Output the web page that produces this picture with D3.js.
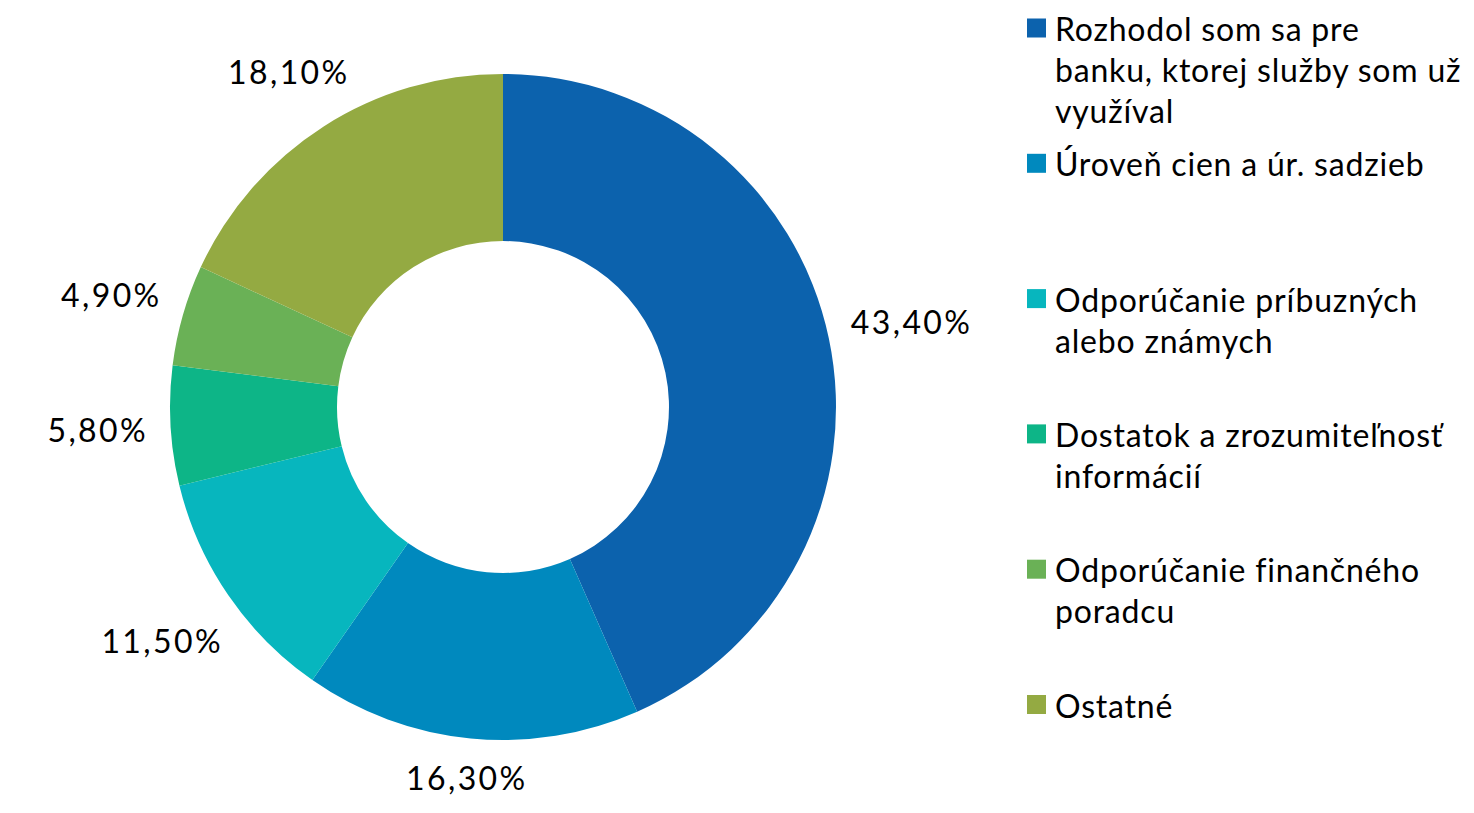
<!DOCTYPE html>
<html>
<head>
<meta charset="utf-8">
<script src="https://cdn.jsdelivr.net/npm/d3@7"></script>
<style>
  html, body { margin: 0; padding: 0; background: #fff; }
  svg { display: block; }
  text { font-family: Lato, "Open Sans", sans-serif; fill: #000; }
</style>
</head>
<body>
<svg id="chart" width="1474" height="813"></svg>
<script>
const categories = [
  ["Rozhodol som sa pre", "banku, ktorej služby som už", "využíval"],
  ["Úroveň cien a  úr. sadzieb"],
  ["Odporúčanie príbuzných", "alebo známych"],
  ["Dostatok a  zrozumiteľnosť", "informácií"],
  ["Odporúčanie finančného", "poradcu"],
  ["Ostatné"]
];
const values = [43.4, 16.3, 11.5, 5.8, 4.9, 18.1];
const valueLabels = ["43,40%", "16,30%", "11,50%", "5,80%", "4,90%", "18,10%"];
const colors = ["#0C62AD", "#0089BE", "#07B6BE", "#0DB587", "#6AB156", "#94AA42"];

const svg = d3.select("#chart");
const cx = 503, cy = 407, rOuter = 333, rInner = 166;
const fontSize = 32;

const data = values.map((v, i) => ({ v, i }));
const pie = d3.pie().value(d => d.v).sort(null);
const arcs = pie(data);
const arc = d3.arc().innerRadius(rInner).outerRadius(rOuter);

const g = svg.append("g").attr("transform", `translate(${cx},${cy})`);
g.selectAll("path.slice").data(arcs).enter().append("path")
  .attr("class", "slice")
  .attr("d", arc)
  .attr("fill", d => colors[d.data.i]);

// labels: outside end, nearest point of text box at a fixed distance from centre
const labelGap = 355;
const lbl = g.selectAll("text.lbl").data(arcs).enter().append("text")
  .attr("class", "lbl")
  .attr("font-size", fontSize)
  .attr("letter-spacing", 2.4)
  .attr("text-anchor", "middle")
  .attr("dominant-baseline", "central")
  .text(d => valueLabels[d.data.i]);

lbl.each(function(d) {
  const bb = this.getBBox();
  const w = bb.width, h = 30;
  const a = (d.startAngle + d.endAngle) / 2;
  const s = Math.sin(a), c = -Math.cos(a);
  function nearest(dist) {
    const x = s * dist, y = c * dist;
    const nx = Math.max(x - w / 2, Math.min(0, x + w / 2));
    const ny = Math.max(y - h / 2, Math.min(0, y + h / 2));
    return Math.hypot(nx, ny);
  }
  let lo = 0, hi = 800;
  for (let k = 0; k < 60; k++) {
    const mid = (lo + hi) / 2;
    if (nearest(mid) < labelGap) lo = mid; else hi = mid;
  }
  d3.select(this).attr("x", s * lo).attr("y", c * lo);
});

// legend
const legX = 1027, legY0 = 28, legStep = 135.3, lineH = 41, sq = 19;
const legend = svg.append("g");
const items = legend.selectAll("g.item").data(categories).enter().append("g")
  .attr("class", "item")
  .attr("transform", (d, i) => `translate(${legX},${legY0 + i * legStep})`);
items.append("rect")
  .attr("x", 0).attr("y", -sq / 2).attr("width", sq).attr("height", sq)
  .attr("fill", (d, i) => colors[i]);
items.each(function(lines) {
  const t = d3.select(this).append("text")
    .attr("font-size", fontSize)
    .attr("letter-spacing", 0.8)
    .attr("dominant-baseline", "central");
  lines.forEach((ln, k) => {
    t.append("tspan").attr("x", 28).attr("y", k * lineH).text(ln);
  });
});
</script>
</body>
</html>
